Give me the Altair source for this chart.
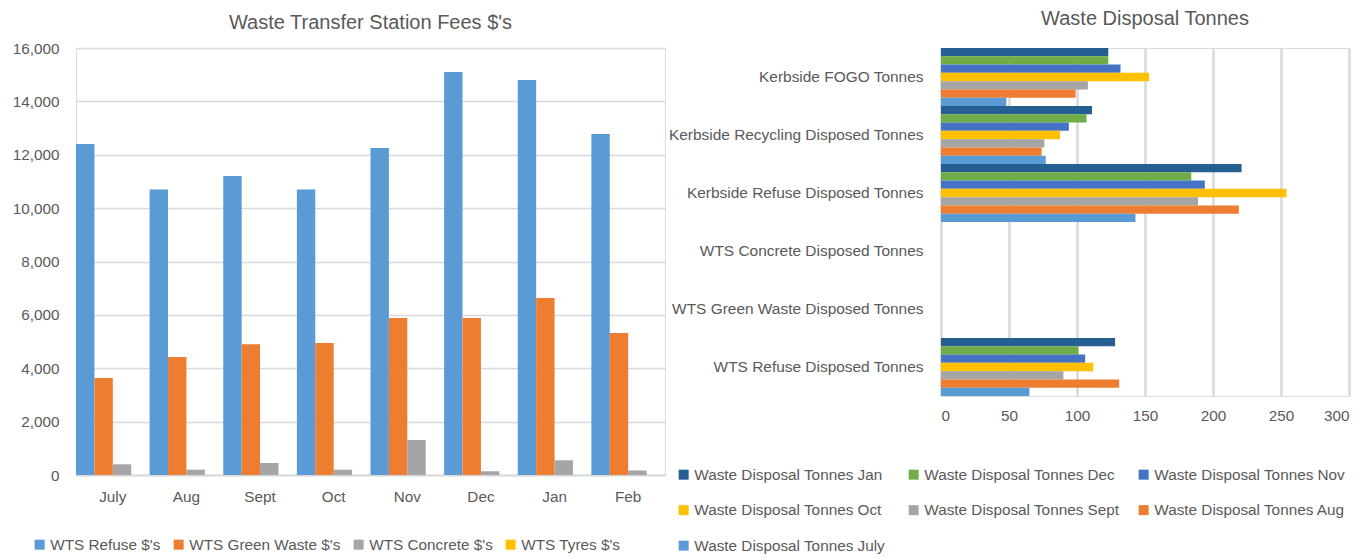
import altair as alt
import pandas as pd

# ---------------- Left chart data ----------------
months_left = ["July", "Aug", "Sept", "Oct", "Nov", "Dec", "Jan", "Feb"]
fee_series = ["WTS Refuse $'s", "WTS Green Waste $'s", "WTS Concrete $'s", "WTS Tyres $'s"]
refuse_fees = [12400, 10700, 11200, 10700, 12250, 15100, 14800, 12780]
green_fees = [3630, 4420, 4900, 4950, 5880, 5880, 6630, 5320]
concrete_fees = [400, 200, 450, 200, 1310, 140, 550, 170]
tyres_fees = [0, 0, 0, 0, 0, 0, 0, 0]
fee_colors = ["#5B9BD5", "#ED7D31", "#A5A5A5", "#FFC000"]
fee_ticks = [0, 2000, 4000, 6000, 8000, 10000, 12000, 14000, 16000]

# ---------------- Right chart data ----------------
categories = [
    "Kerbside FOGO Tonnes",
    "Kerbside Recycling Disposed Tonnes",
    "Kerbside Refuse Disposed Tonnes",
    "WTS Concrete Disposed Tonnes",
    "WTS Green Waste Disposed Tonnes",
    "WTS Refuse Disposed Tonnes",
]
tonne_series = [
    "Waste Disposal Tonnes Jan",
    "Waste Disposal Tonnes Dec",
    "Waste Disposal Tonnes Nov",
    "Waste Disposal Tonnes Oct",
    "Waste Disposal Tonnes Sept",
    "Waste Disposal Tonnes Aug",
    "Waste Disposal Tonnes July",
]
tonnes_jan = [123, 111, 221, 0, 0, 128]
tonnes_dec = [123, 107, 184, 0, 0, 101]
tonnes_nov = [132, 94, 194, 0, 0, 106]
tonnes_oct = [153, 87.5, 254, 0, 0, 112]
tonnes_sept = [108, 76, 189, 0, 0, 90]
tonnes_aug = [99, 74, 219, 0, 0, 131]
tonnes_july = [48, 77, 143, 0, 0, 65]
tonne_colors = ["#255E91", "#70AD47", "#4472C4", "#FFC000", "#A5A5A5", "#ED7D31", "#5B9BD5"]
tonne_ticks = [0, 50, 100, 150, 200, 250, 300]

TXT = "#595959"
GRID = "#D9D9D9"
FONT = "Liberation Sans"

fee_values = [refuse_fees, green_fees, concrete_fees, tyres_fees]
fee_rows = []
for s, vals in zip(fee_series, fee_values):
    for m, v in zip(months_left, vals):
        fee_rows.append({"month": m, "series": s, "value": v})
df_fees = pd.DataFrame(fee_rows)

tonne_values = [tonnes_jan, tonnes_dec, tonnes_nov, tonnes_oct, tonnes_sept, tonnes_aug, tonnes_july]
t_rows = []
for s, vals in zip(tonne_series, tonne_values):
    for c, v in zip(categories, vals):
        t_rows.append({"category": c, "series": s, "value": v})
df_t = pd.DataFrame(t_rows)

left = alt.Chart(df_fees).mark_bar().encode(
    x=alt.X("month:N", sort=months_left, title=None,
            scale=alt.Scale(paddingInner=0, paddingOuter=0),
            axis=alt.Axis(labelAngle=0, ticks=False, domain=True, domainColor=GRID,
                          domainWidth=2, labelPadding=14, labelFontSize=15.3,
                          labelColor=TXT, grid=False)),
    xOffset=alt.XOffset("series:N", sort=fee_series, scale=alt.Scale(paddingInner=0, paddingOuter=0)),
    y=alt.Y("value:Q", title=None, scale=alt.Scale(domain=[0, 16000], nice=False),
            axis=alt.Axis(values=fee_ticks, format=",.0f", ticks=False, domain=False,
                          grid=True, gridColor=GRID, gridWidth=1.5, labelPadding=17,
                          labelFontSize=15.3, labelColor=TXT)),
    color=alt.Color("series:N", sort=fee_series,
                    scale=alt.Scale(domain=fee_series, range=fee_colors),
                    legend=alt.Legend(orient="none", legendX=-44, legendY=489,
                                      direction="horizontal", columns=4, title=None,
                                      symbolType="square", symbolSize=100,
                                      symbolStrokeWidth=0, labelFontSize=15.3,
                                      labelColor=TXT, columnPadding=10, labelOffset=3)),
).properties(
    width=589, height=427,
    title=alt.TitleParams("Waste Transfer Station Fees $'s", fontSize=20, color=TXT,
                          fontWeight="normal", offset=8, anchor="middle"),
)

right = alt.Chart(df_t).mark_bar().encode(
    y=alt.Y("category:N", sort=categories, title=None,
            scale=alt.Scale(paddingInner=0, paddingOuter=0),
            axis=alt.Axis(ticks=False, domain=True, domainColor=GRID, domainWidth=2,
                          labelPadding=18, labelFontSize=15.45, labelColor=TXT,
                          labelLimit=400, grid=False)),
    yOffset=alt.YOffset("series:N", sort=tonne_series, scale=alt.Scale(paddingInner=0, paddingOuter=0)),
    x=alt.X("value:Q", title=None, scale=alt.Scale(domain=[0, 300], nice=False),
            axis=alt.Axis(values=tonne_ticks, ticks=False, domain=False, grid=True,
                          gridColor=GRID, gridWidth=2.5, labelPadding=12,
                          labelFontSize=15.3, labelColor=TXT)),
    color=alt.Color("series:N", sort=tonne_series,
                    scale=alt.Scale(domain=tonne_series, range=tonne_colors),
                    legend=alt.Legend(orient="none", legendX=-265, legendY=419,
                                      direction="horizontal", columns=3, title=None,
                                      gridAlign="all", symbolType="square",
                                      symbolSize=100, symbolStrokeWidth=0,
                                      labelFontSize=15.3, labelColor=TXT,
                                      columnPadding=16, rowPadding=19.5, labelOffset=3,
                                      labelLimit=300)),
).properties(
    width=408, height=348,
    title=alt.TitleParams("Waste Disposal Tonnes", fontSize=20, color=TXT,
                          fontWeight="normal", offset=19, anchor="middle"),
)

chart = alt.hconcat(left, right, spacing=1).resolve_scale(
    color="independent", x="independent", y="independent"
).properties(
    padding={"left": 3, "top": 0, "right": 5, "bottom": 5}
).configure_view(stroke=None).configure(font=FONT)

chart.save("out.html", embed_options={"renderer": "svg", "actions": False})
